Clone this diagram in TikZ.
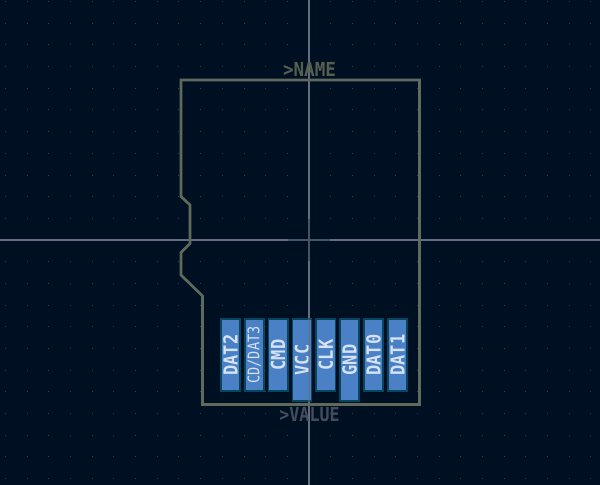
\documentclass[tikz,border=0pt]{standalone}
\usepackage{fontspec}
\setmonofont{DejaVu Sans Mono}
\definecolor{bgc}{HTML}{001023}
\definecolor{gridc}{HTML}{2C3C52}
\definecolor{crossc}{HTML}{666C7C}
\definecolor{crossd}{HTML}{4A5262}
\definecolor{outlinec}{HTML}{5F6A5C}
\definecolor{namec}{HTML}{565E50}
\definecolor{valuec}{HTML}{454C5C}
\definecolor{padc}{HTML}{4A80C6}
\definecolor{padedge}{HTML}{0A4560}
\definecolor{padtext}{HTML}{D5E2F2}
\tikzset{
  x=0.75pt,y=-0.75pt,
  padbox/.style={draw=padedge,fill=padc,line width=1.3pt,inner sep=0pt,rotate=90,
    minimum height=14.4pt,text=padtext,font=\ttfamily\fontsize{14.5}{15}\selectfont},
  shortpad/.style={padbox,minimum width=53.6pt},
  longpad/.style={padbox,minimum width=61.6pt},
  outl/.style={draw=outlinec,line width=2pt,line join=miter},
  refname/.style={inner sep=0pt,font=\ttfamily\bfseries\fontsize{14.5}{15}\selectfont},
  crossh/.style={draw=crossc,line width=0.8pt},
  griddot/.style={fill=gridc}
}
\newcommand{\pt}[1]{\scalebox{0.88}[1]{\bfseries #1}}
\begin{document}
\begin{tikzpicture}
\useasboundingbox (0,0) rectangle (600,485);
\fill[bgc] (0,0) rectangle (600,485);
% grid dots
\foreach \i in {-14,...,13}{
  \foreach \j in {-11,...,11}{
    \fill[griddot] ({309+\i*21.68-0.45},{240+\j*21.68-0.45}) rectangle ++(0.9,0.9);
  }
}
% crosshair
\coordinate (cl) at (0,240); \coordinate (cr) at (600,240);
\coordinate (ct) at (309,0); \coordinate (cb) at (309,485);
\draw[crossh] (cl) -- (cr);
\draw[crossh] (ct) -- (cb);
\coordinate (al) at (288,240); \coordinate (ar) at (330,240);
\coordinate (at) at (309,219); \coordinate (ab) at (309,261);
\draw[draw=crossd,line width=0.8pt] (al) -- (ar);
\draw[draw=crossd,line width=0.8pt] (at) -- (ab);
% outline
\draw[outl] (181,80) -- (419.5,80) -- (419.5,404.5) -- (202.5,404.5) -- (202.5,296)
  -- (181,275) -- (181,252.5) -- (190,243.5) -- (190,205) -- (181,196.5) -- cycle;
% labels
\node[refname,text=namec] (nm) at (309.5,69) {\scalebox{0.91}[1]{>NAME}};
\node[refname,text=valuec] (vl) at (309.5,415) {\scalebox{0.86}[1]{>VALUE}};
% pads
\node[shortpad] (p1) at (230.5,355) {\pt{DAT2}};
\node[shortpad,font=\ttfamily\fontsize{12}{12}\selectfont] (p2) at (254.3,355) {\scalebox{0.85}[1]{CD/DAT3}};
\node[shortpad] (p3) at (278.2,355) {\pt{CMD}};
\node[longpad] (p4) at (302,360) {\pt{VCC}};
\node[shortpad] (p5) at (325.8,355) {\pt{CLK}};
\node[longpad] (p6) at (349.5,360) {\pt{GND}};
\node[shortpad] (p7) at (373.5,355) {\pt{DAT0}};
\node[shortpad] (p8) at (397.5,355) {\pt{DAT1}};
\draw[crossh,opacity=0.5] (309,318) -- (309,402);
\end{tikzpicture}
\end{document}
